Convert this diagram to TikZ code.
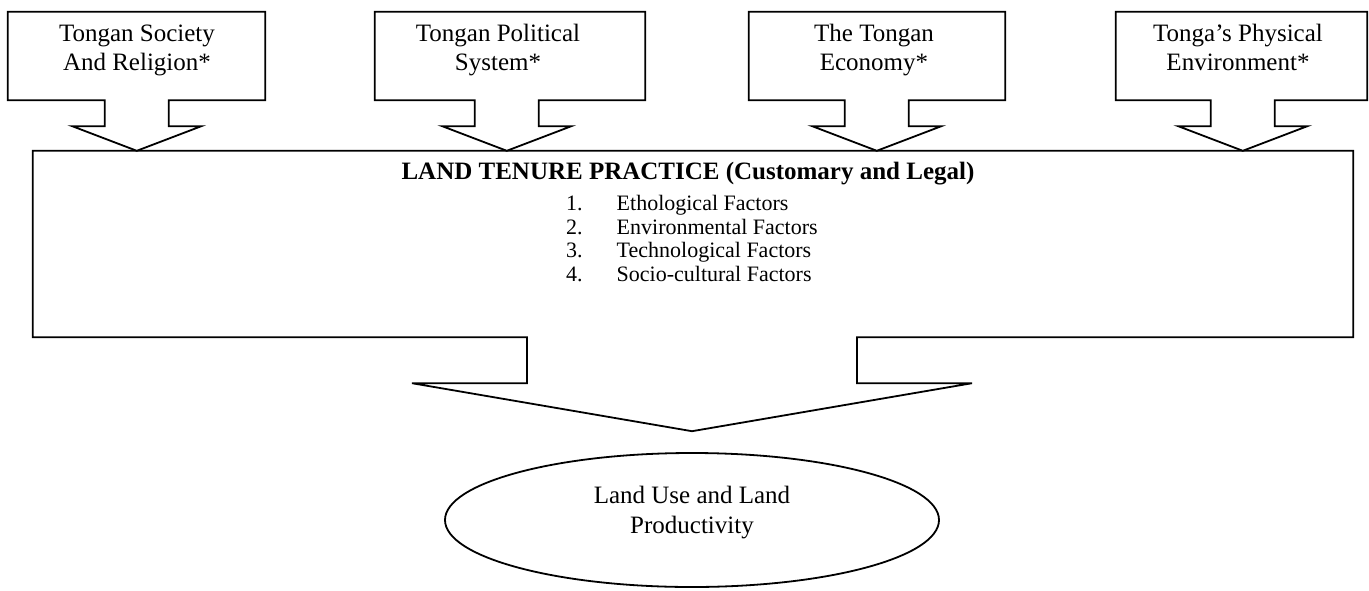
\documentclass[tikz,border=0pt]{standalone}
\usepackage{fontspec}
\setmainfont{Liberation Serif}
\usetikzlibrary{calc,shapes.geometric}

% Down-arrow callout: box #1, arrow point #2
\newcommand\downcallout[2]{%
  \draw[outline] let \p1=(#2), \p2=(#1.south) in
    (#1.north west) -- (#1.north east) -- (#1.south east)
    -- (\x1+32pt,\y2) -- (\x1+32pt,\y2-26pt) -- (\x1+64.5pt,\y2-26pt)
    -- (#2)
    -- (\x1-64.5pt,\y2-26pt) -- (\x1-32pt,\y2-26pt) -- (\x1-32pt,\y2)
    -- (#1.south west) -- cycle;}

\begin{document}
\begin{tikzpicture}[x=1pt,y=-1pt,
  outline/.style={draw=black, line width=1.8pt, line join=miter, fill=white},
  area/.style={inner sep=0pt, minimum height=#1},
  boxtext/.style={align=center, inner sep=0pt, font=\fontsize{25}{29}\selectfont,
    execute at begin node=\strut, execute at end node=\strut},
  listtext/.style={align=left, inner sep=0pt, font=\fontsize{22}{23.7}\selectfont}]
\useasboundingbox (0,0) rectangle (1369,590);

% main box with the down arrow below it
\node[area=186pt, minimum width=1320pt] (ltp) at (693,244) {};
\draw[outline] let \p1=(ltp.south) in
  (ltp.north west) -- (ltp.north east) -- (ltp.south east)
  -- (\x1+164pt,\y1) -- (\x1+164pt,\y1-46pt) -- (\x1+279pt,\y1-46pt)
  -- (\x1-1pt,\y1-94pt)
  -- (\x1-281pt,\y1-46pt) -- (\x1-166pt,\y1-46pt) -- (\x1-166pt,\y1)
  -- (ltp.south west) -- cycle;

\node[inner sep=0pt, font=\fontsize{25}{29}\selectfont\bfseries] (title) at (688,174)
  {LAND TENURE PRACTICE (Customary and Legal)};
\node[listtext, anchor=west] (factors) at (566,238.5)
  {1.\hspace{34pt}Ethological Factors\\
   2.\hspace{34pt}Environmental Factors\\
   3.\hspace{34pt}Technological Factors\\
   4.\hspace{34pt}Socio-cultural Factors};

% arrow points on the top edge of the main box
\coordinate (t1) at ($(ltp.north west)+(104,0)$);
\coordinate (t2) at ($(ltp.north west)+(474,0)$);
\coordinate (t3) at ($(ltp.north west)+(844,0)$);
\coordinate (t4) at ($(ltp.north west)+(1210,0)$);

% callout boxes
\node[area=88pt, minimum width=257pt] (c1) at (136.5,56) {};
\node[area=88pt, minimum width=270pt] (c2) at (510,56) {};
\node[area=88pt, minimum width=256pt] (c3) at (877,56) {};
\node[area=88pt, minimum width=251pt] (c4) at (1241.5,56) {};
\downcallout{c1}{t1}
\downcallout{c2}{t2}
\downcallout{c3}{t3}
\downcallout{c4}{t4}

\node[boxtext] (c1t) at (137,52) {Tongan Society\\And Religion*};
\node[boxtext] (c2t) at (498,52) {Tongan Political\\System*};
\node[boxtext] (c3t) at (874,52) {The Tongan\\Economy*};
\node[boxtext] (c4t) at (1238,52) {Tonga’s Physical\\Environment*};

% outcome
\node[ellipse, draw=black, line width=1.8pt, inner sep=0pt,
      minimum width=494pt, minimum height=134pt] (lu) at (692,520) {};
\node[boxtext, font=\fontsize{25}{30}\selectfont] (lut) at (692,514)
  {Land Use and Land\\Productivity};
\end{tikzpicture}
\end{document}
